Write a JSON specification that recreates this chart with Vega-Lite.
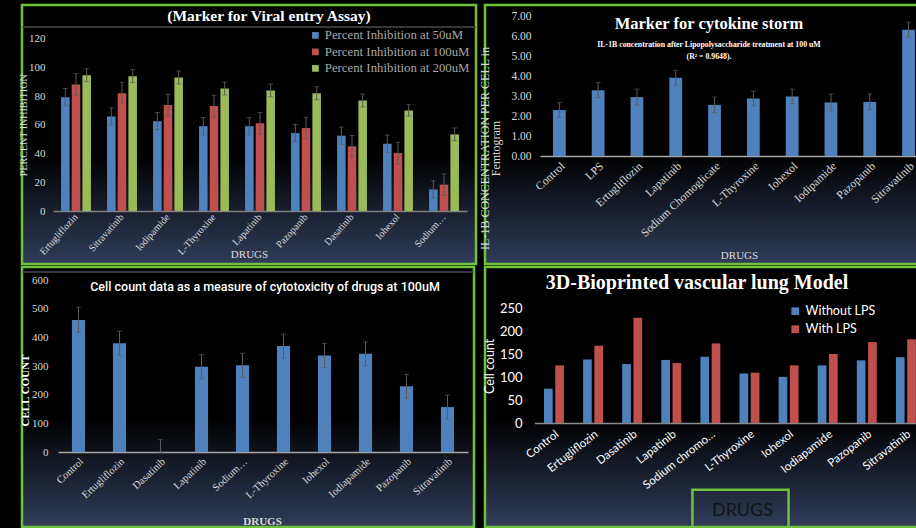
{
  "$schema": "https://vega.github.io/schema/vega-lite/v6.json",
  "background": "#000000",
  "padding": {"left": 17, "top": 3, "right": 0, "bottom": 0},
  "bounds": "flush",
  "columns": 2,
  "spacing": {"row": 3, "column": 9},
  "resolve": {
    "scale": {"color": "independent", "xOffset": "independent", "x": "independent", "y": "independent"},
    "legend": {"color": "independent"},
    "axis": {"x": "independent", "y": "independent"}
  },
  "config": {
    "view": {
      "stroke": "#70c23a",
      "strokeWidth": 2.5,
      "fill": {"gradient": "linear", "x1": 0, "y1": 0, "x2": 0, "y2": 1,
        "stops": [{"offset": 0, "color": "#000000"}, {"offset": 0.58, "color": "#000000"}, {"offset": 1, "color": "#303c5a"}]}
    },
    "axis": {"grid": false, "ticks": false, "tickSize": 0}
  },
  "concat": [
    {
      "width": 454,
      "height": 259,
      "title": {"text": "(Marker for Viral entry Assay)", "font": "Liberation Serif", "fontSize": 15.5, "fontWeight": "bold", "color": "#ffffff", "anchor": "middle", "frame": "group", "offset": -19, "dx": 20},
      "layer": [
        {
          "data": {"values": [{"line": "title separator"}]},
          "mark": {"type": "rule", "color": "#4a4a4a", "strokeWidth": 1.5},
          "encoding": {"y": {"datum": 128, "type": "quantitative"}}
        },
        {
          "data": {"values": [
            {"drug": "Ertugliflozin", "conc": "Percent Inhibition at 50uM", "value": 79.2, "err": 6},
            {"drug": "Ertugliflozin", "conc": "Percent Inhibition at 100uM", "value": 88, "err": 7.5},
            {"drug": "Ertugliflozin", "conc": "Percent Inhibition at 200uM", "value": 94.5, "err": 4.5},
            {"drug": "Sitravatinib", "conc": "Percent Inhibition at 50uM", "value": 65.8, "err": 6},
            {"drug": "Sitravatinib", "conc": "Percent Inhibition at 100uM", "value": 82, "err": 7.5},
            {"drug": "Sitravatinib", "conc": "Percent Inhibition at 200uM", "value": 93.8, "err": 4.5},
            {"drug": "Iodipamide", "conc": "Percent Inhibition at 50uM", "value": 62.5, "err": 6},
            {"drug": "Iodipamide", "conc": "Percent Inhibition at 100uM", "value": 73.7, "err": 7.5},
            {"drug": "Iodipamide", "conc": "Percent Inhibition at 200uM", "value": 92.9, "err": 4.5},
            {"drug": "L-Thyroxine", "conc": "Percent Inhibition at 50uM", "value": 59, "err": 6},
            {"drug": "L-Thyroxine", "conc": "Percent Inhibition at 100uM", "value": 73, "err": 7.5},
            {"drug": "L-Thyroxine", "conc": "Percent Inhibition at 200uM", "value": 85.2, "err": 4.5},
            {"drug": "Lapatinib", "conc": "Percent Inhibition at 50uM", "value": 59, "err": 6},
            {"drug": "Lapatinib", "conc": "Percent Inhibition at 100uM", "value": 61, "err": 7.5},
            {"drug": "Lapatinib", "conc": "Percent Inhibition at 200uM", "value": 83.9, "err": 4.5},
            {"drug": "Pazopanib", "conc": "Percent Inhibition at 50uM", "value": 54.2, "err": 6},
            {"drug": "Pazopanib", "conc": "Percent Inhibition at 100uM", "value": 57.7, "err": 7.5},
            {"drug": "Pazopanib", "conc": "Percent Inhibition at 200uM", "value": 82, "err": 4.5},
            {"drug": "Dasatinib", "conc": "Percent Inhibition at 50uM", "value": 52.4, "err": 6},
            {"drug": "Dasatinib", "conc": "Percent Inhibition at 100uM", "value": 45, "err": 7.5},
            {"drug": "Dasatinib", "conc": "Percent Inhibition at 200uM", "value": 76.9, "err": 4.5},
            {"drug": "Iohexol", "conc": "Percent Inhibition at 50uM", "value": 46.8, "err": 6},
            {"drug": "Iohexol", "conc": "Percent Inhibition at 100uM", "value": 40.3, "err": 7.5},
            {"drug": "Iohexol", "conc": "Percent Inhibition at 200uM", "value": 70, "err": 4},
            {"drug": "Sodium…", "conc": "Percent Inhibition at 50uM", "value": 15, "err": 6},
            {"drug": "Sodium…", "conc": "Percent Inhibition at 100uM", "value": 18.3, "err": 7.5},
            {"drug": "Sodium…", "conc": "Percent Inhibition at 200uM", "value": 53.3, "err": 4.5}
          ]},
          "encoding": {
            "x": {"field": "drug", "type": "nominal", "sort": null,
              "scale": {"range": [31, 445], "paddingInner": 0.35, "paddingOuter": 0.175},
              "axis": {"title": "DRUGS", "offset": -53, "labelAngle": -48, "labelFont": "Liberation Serif", "labelFontSize": 10, "labelColor": "#d9d9d9", "labelPadding": 4, "domainColor": "#808080", "domainWidth": 1.5, "titleFont": "Liberation Serif", "titleFontSize": 11, "titleFontWeight": "normal", "titleColor": "#d9d9d9", "titleX": 227, "titleY": 37}},
            "xOffset": {"field": "conc", "type": "nominal", "sort": null, "scale": {"paddingInner": 0.2}},
            "y": {"field": "value", "type": "quantitative", "title": "PERCENT INHIBITION",
              "scale": {"domain": [0, 120], "range": [206, 33.5], "nice": false},
              "axis": {"title": "PERCENT INHIBITION", "offset": -25, "values": [0, 20, 40, 60, 80, 100, 120], "domain": false, "labelPadding": 2, "labelFont": "Liberation Serif", "labelFontSize": 11, "labelColor": "#d9d9d9", "titleFont": "Liberation Serif", "titleFontSize": 10, "titleFontWeight": "normal", "titleColor": "#d9d9d9", "titlePadding": 0}}
          },
          "layer": [
            {
              "mark": {"type": "bar"},
              "encoding": {
                "color": {"field": "conc", "type": "nominal", "sort": null,
                  "scale": {"range": ["#4f81bd", "#c0504d", "#9bbb59"]},
                  "legend": {"title": null, "orient": "none", "legendX": 287, "legendY": 24, "symbolType": "square", "symbolSize": 45, "symbolStrokeWidth": 0, "labelFont": "Liberation Serif", "labelFontSize": 12.8, "labelColor": "#a6a6a6", "labelOffset": 3, "rowPadding": 2.5}}
              }
            },
            {
              "mark": {"type": "errorbar", "ticks": {"size": 5}, "color": "#5a5a5a", "thickness": 1},
              "encoding": {"yError": {"field": "err"}}
            }
          ]
        }
      ]
    },
    {
      "width": 433,
      "height": 259,
      "title": {"text": "Marker for cytokine storm", "subtitle": ["IL-1B concentration after Lipopolysaccharide treatment at 100 uM", "(R² = 0.9648)."], "font": "Liberation Serif", "fontSize": 16.5, "fontWeight": "bold", "color": "#ffffff", "subtitleFont": "Liberation Serif", "subtitleFontSize": 7.8, "subtitleFontWeight": "bold", "subtitleColor": "#ffffff", "subtitlePadding": 8, "subtitleLineHeight": 12.5, "anchor": "middle", "frame": "group", "offset": -56, "dx": 7.5},
      "data": {"values": [
        {"drug": "Control", "value": 2.31, "err": 0.37},
        {"drug": "LPS", "value": 3.31, "err": 0.38},
        {"drug": "Ertugliflozin", "value": 2.96, "err": 0.4},
        {"drug": "Lapatinib", "value": 3.93, "err": 0.38},
        {"drug": "Sodium Chomoglicate", "value": 2.57, "err": 0.39},
        {"drug": "L-Thyroxine", "value": 2.89, "err": 0.37},
        {"drug": "Iohexol", "value": 2.99, "err": 0.37},
        {"drug": "Iodipamide", "value": 2.69, "err": 0.42},
        {"drug": "Pazopanib", "value": 2.72, "err": 0.4},
        {"drug": "Sitravatinib", "value": 6.35, "err": 0.38}
      ]},
      "encoding": {
        "x": {"field": "drug", "type": "nominal", "sort": null,
          "scale": {"range": [55, 433], "paddingInner": 0.67, "paddingOuter": 0.206, "align": 0.81},
          "axis": {"title": "DRUGS", "offset": -108, "labelAngle": -43, "labelFont": "Liberation Serif", "labelFontSize": 11.5, "labelColor": "#d9d9d9", "labelPadding": 4, "domainColor": "#a6a6a6", "domainWidth": 1.5, "titleFont": "Liberation Serif", "titleFontSize": 11, "titleFontWeight": "normal", "titleColor": "#d9d9d9", "titleX": 254, "titleY": 93}},
        "y": {"field": "value", "type": "quantitative",
          "scale": {"domain": [0, 7], "range": [151, 11.7], "nice": false},
          "axis": {"title": ["IL-1B CONCENTRATION PER CELL in", "Femtogram"], "offset": -48, "values": [0, 1, 2, 3, 4, 5, 6, 7], "format": ".2f", "domain": false, "labelPadding": 2, "labelFont": "Liberation Serif", "labelFontSize": 11.5, "labelColor": "#d9d9d9", "titleFont": "Liberation Serif", "titleFontSize": 12, "titleFontWeight": "normal", "titleColor": "#d9d9d9", "titleLineHeight": 11, "titlePadding": 8, "titleY": 143}}
      },
      "layer": [
        {"mark": {"type": "bar", "color": "#4f81bd"}},
        {"mark": {"type": "errorbar", "ticks": {"size": 5}, "color": "#5a5a5a", "thickness": 1}, "encoding": {"yError": {"field": "err"}}}
      ]
    },
    {
      "width": 452,
      "height": 260,
      "title": {"text": "Cell count data as a measure of cytotoxicity of drugs at 100uM", "font": "Roboto", "fontSize": 12.5, "fontWeight": 500, "color": "#ffffff", "anchor": "middle", "frame": "group", "offset": -26.75, "dx": 17},
      "layer": [
        {
          "data": {"values": [{"line": "top separator"}]},
          "mark": {"type": "rule", "color": "#4a4a4a", "strokeWidth": 1.5},
          "encoding": {"y": {"datum": 629, "type": "quantitative"}}
        },
        {
          "data": {"values": [
            {"drug": "Control", "value": 461, "lo": 418, "hi": 506},
            {"drug": "Ertugliflozin", "value": 380, "lo": 338, "hi": 422},
            {"drug": "Dasatinib", "value": 0, "lo": 0, "hi": 43},
            {"drug": "Lapatinib", "value": 298, "lo": 256, "hi": 340},
            {"drug": "Sodium…", "value": 303, "lo": 261, "hi": 345},
            {"drug": "L-Thyroxine", "value": 370, "lo": 328, "hi": 412},
            {"drug": "Iohexol", "value": 337, "lo": 295, "hi": 379},
            {"drug": "Iodiapamide", "value": 343, "lo": 301, "hi": 385},
            {"drug": "Pazopanib", "value": 230, "lo": 188, "hi": 271},
            {"drug": "Sitravatinib", "value": 157, "lo": 115, "hi": 199}
          ]},
          "encoding": {
            "x": {"field": "drug", "type": "nominal", "sort": null,
              "scale": {"range": [36, 446], "paddingInner": 0.68, "paddingOuter": 0.34},
              "axis": {"title": "DRUGS", "offset": -75, "labelAngle": -43, "labelFont": "Liberation Serif", "labelFontSize": 10.5, "labelColor": "#d9d9d9", "labelPadding": 4, "domainColor": "#a6a6a6", "domainWidth": 1.5, "titleFont": "Liberation Serif", "titleFontSize": 11, "titleFontWeight": "bold", "titleColor": "#d9d9d9", "titleX": 240, "titleY": 63}}
          },
          "layer": [
            {
              "mark": {"type": "bar", "color": "#4f81bd"},
              "encoding": {
                "y": {"field": "value", "type": "quantitative", "title": "CELL COUNT",
                  "scale": {"domain": [0, 600], "range": [185, 13.3], "nice": false},
                  "axis": {"title": "CELL COUNT", "offset": -28, "values": [0, 100, 200, 300, 400, 500, 600], "domain": false, "labelPadding": 2, "labelFont": "Liberation Serif", "labelFontSize": 11, "labelColor": "#d9d9d9", "titleFont": "Liberation Serif", "titleFontSize": 11, "titleFontWeight": "bold", "titleColor": "#ffffff", "titlePadding": 1, "titleY": 123}}
              }
            },
            {
              "mark": {"type": "errorbar", "ticks": {"size": 5}, "color": "#5a5a5a", "thickness": 1},
              "encoding": {
                "y": {"field": "lo", "type": "quantitative", "title": "CELL COUNT"},
                "y2": {"field": "hi"}
              }
            }
          ]
        }
      ]
    },
    {
      "width": 433,
      "height": 260,
      "title": {"text": "3D-Bioprinted vascular lung Model", "font": "Liberation Serif", "fontSize": 20, "fontWeight": "bold", "color": "#ffffff", "anchor": "middle", "frame": "group", "offset": -26, "dx": -4.5},
      "layer": [
        {
          "data": {"values": [
            {"drug": "Control", "lps": "Without LPS", "value": 75},
            {"drug": "Control", "lps": "With LPS", "value": 126},
            {"drug": "Ertugliflozin", "lps": "Without LPS", "value": 139},
            {"drug": "Ertugliflozin", "lps": "With LPS", "value": 169},
            {"drug": "Dasatinib", "lps": "Without LPS", "value": 129},
            {"drug": "Dasatinib", "lps": "With LPS", "value": 230},
            {"drug": "Lapatinib", "lps": "Without LPS", "value": 138},
            {"drug": "Lapatinib", "lps": "With LPS", "value": 131},
            {"drug": "Sodium chromo…", "lps": "Without LPS", "value": 145},
            {"drug": "Sodium chromo…", "lps": "With LPS", "value": 174},
            {"drug": "L-Thyroxine", "lps": "Without LPS", "value": 108},
            {"drug": "L-Thyroxine", "lps": "With LPS", "value": 110},
            {"drug": "Iohexol", "lps": "Without LPS", "value": 101},
            {"drug": "Iohexol", "lps": "With LPS", "value": 126},
            {"drug": "Iodiapamide", "lps": "Without LPS", "value": 126},
            {"drug": "Iodiapamide", "lps": "With LPS", "value": 151},
            {"drug": "Pazopanib", "lps": "Without LPS", "value": 137},
            {"drug": "Pazopanib", "lps": "With LPS", "value": 177},
            {"drug": "Sitravatinib", "lps": "Without LPS", "value": 144},
            {"drug": "Sitravatinib", "lps": "With LPS", "value": 183}
          ]},
          "mark": {"type": "bar"},
          "encoding": {
            "x": {"field": "drug", "type": "nominal", "sort": null,
              "scale": {"range": [49.5, 433], "paddingInner": 0.49, "paddingOuter": 0.149, "align": 0.815},
              "axis": {"title": "DRUGS", "offset": -104, "labelAngle": -38, "labelFont": "Lato", "labelFontSize": 11.5, "labelColor": "#ffffff", "labelPadding": 5, "domainColor": "#8c8c8c", "domainWidth": 1.5, "titleFont": "Lato", "titleFontSize": 18, "titleFontWeight": "normal", "titleColor": "#141414", "titleX": 257, "titleY": 78}},
            "xOffset": {"field": "lps", "type": "nominal", "sort": null, "scale": {"paddingInner": 0.23}},
            "y": {"field": "value", "type": "quantitative", "title": "Cell count",
              "scale": {"domain": [0, 250], "range": [156, 41.7], "nice": false},
              "axis": {"title": "Cell count", "offset": -39, "values": [0, 50, 100, 150, 200, 250], "domain": false, "labelPadding": 2, "labelFont": "Lato", "labelFontSize": 13, "labelColor": "#ffffff", "titleFont": "Lato", "titleFontSize": 12.5, "titleFontWeight": "normal", "titleColor": "#ffffff", "titlePadding": 3}},
            "color": {"field": "lps", "type": "nominal", "sort": null,
              "scale": {"range": ["#4f81bd", "#c0504d"]},
              "legend": {"title": null, "orient": "none", "legendX": 304, "legendY": 38, "symbolType": "square", "symbolSize": 60, "symbolStrokeWidth": 0, "labelFont": "Lato", "labelFontSize": 12.5, "labelColor": "#ffffff", "rowPadding": 5}}
          }
        },
        {
          "data": {"values": [{"box": "axis title frame"}]},
          "mark": {"type": "rect", "fill": "transparent", "stroke": "#70c23a", "strokeWidth": 2.5},
          "encoding": {
            "x": {"datum": "Sodium chromo…", "type": "nominal", "bandPosition": -0.4},
            "x2": {"datum": "Iohexol"},
            "y": {"datum": -146, "type": "quantitative"},
            "y2": {"datum": -228}
          }
        }
      ]
    }
  ]
}
